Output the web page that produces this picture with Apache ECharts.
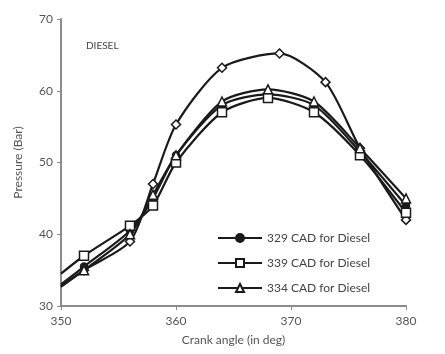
<!DOCTYPE html>
<html>
<head>
<meta charset="utf-8">
<script src="https://cdn.jsdelivr.net/npm/echarts@6/dist/echarts.min.js"></script>
<style>
html, body { margin: 0; padding: 0; background: #fff; }
#chart { width: 445px; height: 354px; }
</style>
</head>
<body>
<div id="chart"></div>
<script>
// crank angles (deg) of the plotted points
var angles = [350, 352, 356, 358, 360, 364, 368, 372, 376, 380];
var peakAngles = [350, 352, 356, 358, 360, 364, 369, 373, 376, 380];
// pressure (bar)
var cad329 = [33.0, 35.5, 40.5, 45.0, 51.0, 58.0, 59.5, 58.0, 51.5, 44.0];
var cad339 = [34.5, 37.0, 41.2, 44.0, 50.0, 57.0, 59.0, 57.0, 51.0, 43.0];
var cad334 = [32.7, 35.0, 40.0, 45.5, 51.0, 58.5, 60.2, 58.5, 52.0, 45.0];
var diesel = [32.7, 35.0, 39.0, 47.0, 55.3, 63.2, 65.2, 61.2, 52.0, 42.0];
var seriesNames = ['329 CAD for Diesel', '339 CAD for Diesel', '334 CAD for Diesel'];

function pairs(xs, ys) {
    return xs.map(function (x, i) { return [x, ys[i]]; });
}

var lineCol = '#1a1a1a';
var axisCol = '#8c8c8c';
var textCol = '#555';
var font = 'Lato';

// no marker on the first point (line just runs in from the edge)
function markSize(s) {
    return function (val) { return val[0] === 350 ? 0 : s; };
}

function makeSeries(name, xs, ys, symbol, size, fill) {
    return {
        name: name,
        type: 'line',
        data: pairs(xs, ys),
        smooth: 0.25,
        symbol: symbol,
        symbolSize: markSize(size),
        showAllSymbol: true,
        lineStyle: {color: lineCol, width: 2.2},
        itemStyle: {color: fill, borderColor: lineCol, borderWidth: 1.5},
        z: 3
    };
}

var chart = echarts.init(document.getElementById('chart'));
chart.setOption({
    animation: false,
    grid: {left: 61, right: 39, top: 19, bottom: 48},
    xAxis: {
        type: 'value',
        min: 350,
        max: 380,
        interval: 10,
        name: 'Crank angle (in deg)',
        nameLocation: 'middle',
        nameGap: 28,
        nameTextStyle: {color: textCol, fontSize: 12, fontFamily: font},
        axisLine: {lineStyle: {color: axisCol, width: 2}},
        axisTick: {show: true, length: 4, lineStyle: {color: axisCol}},
        axisLabel: {color: textCol, fontSize: 12, fontFamily: font, margin: 9},
        splitLine: {show: false}
    },
    yAxis: {
        type: 'value',
        min: 30,
        max: 70,
        interval: 10,
        name: 'Pressure (Bar)',
        nameLocation: 'middle',
        nameGap: 37,
        nameTextStyle: {color: textCol, fontSize: 12, fontFamily: font},
        axisLine: {show: true, lineStyle: {color: axisCol, width: 2}},
        axisTick: {show: true, length: 4, lineStyle: {color: axisCol}},
        axisLabel: {color: textCol, fontSize: 12, fontFamily: font, margin: 8},
        splitLine: {show: false}
    },
    legend: {
        data: seriesNames,
        orient: 'vertical',
        left: 212,
        top: 227,
        itemWidth: 44,
        itemHeight: 10,
        itemGap: 13,
        textStyle: {color: '#444', fontSize: 12, fontFamily: font}
    },
    graphic: [{
        type: 'text',
        left: 86,
        top: 41,
        style: {text: 'DIESEL', fill: '#444', fontSize: 10, fontFamily: font}
    }],
    series: [
        makeSeries('diesel peak', peakAngles, diesel, 'diamond', 9, '#fff'),
        makeSeries(seriesNames[0], angles, cad329, 'circle', 7, lineCol),
        makeSeries(seriesNames[1], angles, cad339, 'rect', 9, '#fff'),
        makeSeries(seriesNames[2], angles, cad334, 'triangle', 9, '#fff')
    ]
});
</script>
</body>
</html>
